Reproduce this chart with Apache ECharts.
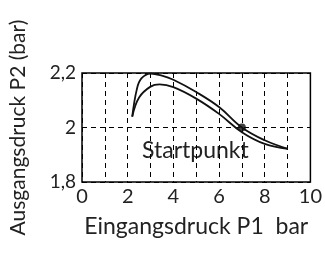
<!DOCTYPE html>
<html>
<head>
<meta charset="utf-8">
<script src="https://cdn.jsdelivr.net/npm/echarts@6/dist/echarts.min.js"></script>
<style>
  html, body { margin: 0; padding: 0; background: #fff; }
  #main { width: 325px; height: 255px; }
</style>
</head>
<body>
<div id="main"></div>
<script>
// upper and lower curve, [P1, P2]
const upperCurve = [[2.2, 2.04], [2.4, 2.14], [2.6, 2.18], [3.0, 2.198], [3.5, 2.19], [4, 2.175],
  [5, 2.13], [6, 2.075], [7, 2.0], [8, 1.953], [9, 1.922]]
const lowerCurve = [[2.2, 2.04], [2.5, 2.11], [3.0, 2.15], [3.4, 2.158], [4, 2.148], [5, 2.106],
  [6, 2.05], [7, 1.983], [8, 1.94], [9, 1.922]]
const startPoint = [[7, 2.0]]
const xTicks = [0, 2, 4, 6, 8, 10]

const font = 'Lato, "Open Sans", sans-serif'
const chart = echarts.init(document.getElementById('main'))

chart.setOption({
  animation: false,
  grid: {
    left: 81, right: 13, top: 73, bottom: 73,
    show: true, borderColor: '#000', borderWidth: 1.5
  },
  graphic: [{
    type: 'text', left: 142, top: 139,
    style: { text: 'Startpunkt', font: '23px ' + font, fill: '#222' }
  }],
  xAxis: {
    type: 'value', min: 0, max: 10, interval: 1,
    name: 'Eingangsdruck P1  bar', nameLocation: 'middle', nameGap: 33,
    nameTextStyle: { fontSize: 23, fontFamily: font, color: '#222' },
    axisLine: { show: false }, axisTick: { show: false },
    axisLabel: {
      fontSize: 20, fontFamily: font, color: '#222', margin: 5,
      formatter: v => xTicks.includes(v) ? String(v) : ''
    },
    splitLine: { show: true, lineStyle: { color: '#000', type: [5, 4], width: 1 } }
  },
  yAxis: {
    type: 'value', min: 1.8, max: 2.2, interval: 0.2,
    name: 'Ausgangsdruck P2 (bar)', nameLocation: 'middle', nameGap: 53,
    nameTextStyle: { fontSize: 21, fontFamily: font, color: '#222' },
    axisLine: { show: false }, axisTick: { show: false },
    axisLabel: {
      fontSize: 19, fontFamily: font, color: '#222', margin: 6,
      formatter: v => String(+v.toFixed(1)).replace('.', ',')
    },
    splitLine: { show: true, lineStyle: { color: '#000', type: [5, 4], width: 1 } }
  },
  series: [
    {
      type: 'line', data: upperCurve, smooth: 0.4, showSymbol: false,
      lineStyle: { color: '#111', width: 1.8 }
    },
    {
      type: 'line', data: lowerCurve, smooth: 0.4, showSymbol: false,
      lineStyle: { color: '#111', width: 1.8 }
    },
    {
      type: 'scatter', data: startPoint, symbolSize: 8,
      itemStyle: { color: '#111' }
    }
  ]
})
</script>
</body>
</html>
